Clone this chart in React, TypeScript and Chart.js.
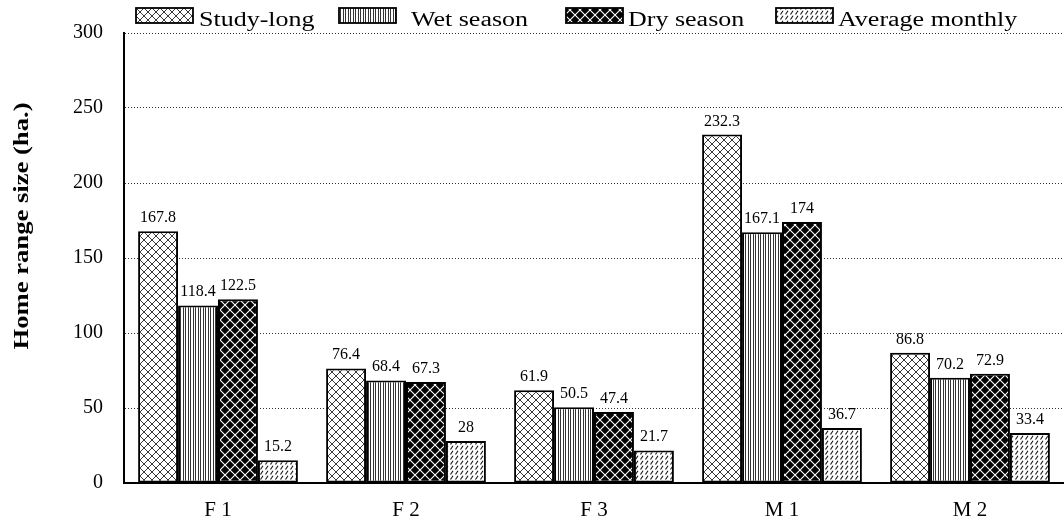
import React, { useEffect, useRef } from "react";
import { Chart, registerables } from "chart.js";

Chart.register(...registerables);

const categories = ["F 1", "F 2", "F 3", "M 1", "M 2"];
const seriesNames = ["Study-long", "Wet season", "Dry season", "Average monthly"];
const studyLong = [167.8, 76.4, 61.9, 232.3, 86.8];
const wetSeason = [118.4, 68.4, 50.5, 167.1, 70.2];
const drySeason = [122.5, 67.3, 47.4, 174, 72.9];
const averageMonthly = [15.2, 28, 21.7, 36.7, 33.4];
const yMin = 0;
const yMax = 300;
const yStep = 50;
const yTitle = "Home range size (ha.)";

const FONT = "'Liberation Serif', 'Times New Roman', serif";

function makeTile(w: number, h: number, draw: (c: CanvasRenderingContext2D) => void) {
  const cv = document.createElement("canvas");
  cv.width = w;
  cv.height = h;
  const c = cv.getContext("2d")!;
  draw(c);
  return cv;
}

function buildPatterns(ctx: CanvasRenderingContext2D) {
  const cross = makeTile(8, 8, (c) => {
    c.fillStyle = "#fff";
    c.fillRect(0, 0, 8, 8);
    c.strokeStyle = "#222";
    c.lineWidth = 0.9;
    c.beginPath();
    c.moveTo(0, 0); c.lineTo(8, 8);
    c.moveTo(0, 8); c.lineTo(8, 0);
    c.stroke();
  });
  const vertical = makeTile(5, 2, (c) => {
    c.fillStyle = "#fff";
    c.fillRect(0, 0, 5, 2);
    c.fillStyle = "#333";
    c.fillRect(0, 0, 1, 2);
    c.fillRect(3, 0, 1, 2);
  });
  const darkCross = makeTile(10, 10, (c) => {
    c.fillStyle = "#000";
    c.fillRect(0, 0, 10, 10);
    c.strokeStyle = "#fff";
    c.lineWidth = 1.1;
    c.beginPath();
    c.moveTo(0, 0); c.lineTo(10, 10);
    c.moveTo(0, 10); c.lineTo(10, 0);
    c.stroke();
  });
  const dashes = makeTile(5, 5, (c) => {
    c.fillStyle = "#fff";
    c.fillRect(0, 0, 5, 5);
    c.strokeStyle = "#111";
    c.lineWidth = 1.1;
    c.beginPath();
    c.moveTo(0.5, 4.5); c.lineTo(3, 0.8);
    c.stroke();
  });
  return [cross, vertical, darkCross, dashes].map((t) => ctx.createPattern(t, "repeat")!);
}

const legendBoxX = [136, 339, 566, 776];
const legendTextX = [199, 411, 628, 838];

export default function App() {
  const ref = useRef<HTMLCanvasElement | null>(null);

  useEffect(() => {
    const canvas = ref.current!;
    const ctx = canvas.getContext("2d")!;
    const patterns = buildPatterns(ctx);
    const values = [studyLong, wetSeason, drySeason, averageMonthly];

    const decorPlugin = {
      id: "decor",
      afterDatasetsDraw(chart: any) {
        const c = chart.ctx as CanvasRenderingContext2D;
        c.save();
        c.fillStyle = "#000";
        c.font = `16px ${FONT}`;
        c.textAlign = "center";
        c.textBaseline = "alphabetic";
        chart.data.datasets.forEach((ds: any, i: number) => {
          const meta = chart.getDatasetMeta(i);
          meta.data.forEach((el: any, j: number) => {
            c.fillText(String(ds.data[j]), el.x, el.y - 9);
          });
        });
        c.restore();
      },
      afterDraw(chart: any) {
        const c = chart.ctx as CanvasRenderingContext2D;
        c.save();
        seriesNames.forEach((name, i) => {
          const bx = legendBoxX[i];
          c.fillStyle = patterns[i];
          c.fillRect(bx, 8, 57, 15);
          c.strokeStyle = "#000";
          c.lineWidth = 1.8;
          c.strokeRect(bx, 8, 57, 15);
          c.save();
          c.translate(legendTextX[i], 26);
          c.scale(1.3, 1);
          c.fillStyle = "#000";
          c.font = `20px ${FONT}`;
          c.textAlign = "left";
          c.textBaseline = "alphabetic";
          c.fillText(name, 0, 0);
          c.restore();
        });
        c.save();
        c.font = `bold 22px ${FONT}`;
        const w = c.measureText(yTitle).width;
        c.translate(28, 226);
        c.rotate(-Math.PI / 2);
        c.scale(247 / w, 1);
        c.fillStyle = "#000";
        c.textAlign = "center";
        c.textBaseline = "alphabetic";
        c.fillText(yTitle, 0, 0);
        c.restore();
        c.restore();
      },
    };

    const chart = new Chart(canvas, {
      type: "bar",
      data: {
        labels: categories,
        datasets: seriesNames.map((name, i) => ({
          label: name,
          data: values[i],
          backgroundColor: patterns[i],
          borderColor: "#000",
          borderWidth: 2,
          borderSkipped: false,
          categoryPercentage: 0.85,
          barPercentage: 1.0,
        })),
      },
      options: {
        responsive: false,
        maintainAspectRatio: false,
        animation: false,
        devicePixelRatio: 1,
        layout: { padding: { top: 32, left: 0, right: 0, bottom: 0 } },
        plugins: {
          legend: { display: false },
          tooltip: { enabled: false },
          title: { display: false },
        },
        scales: {
          x: {
            grid: { display: false, drawTicks: false },
            border: { display: true, color: "#000", width: 2 },
            ticks: {
              color: "#000",
              font: { family: FONT, size: 21 },
              padding: 15,
            },
            afterFit: (scale: any) => {
              scale.height = 40;
            },
          },
          y: {
            min: yMin,
            max: yMax,
            ticks: {
              stepSize: yStep,
              color: "#000",
              font: { family: FONT, size: 20 },
              padding: 21,
            },
            grid: {
              drawTicks: false,
              color: (c: any) => (c.tick && c.tick.value === 0 ? "rgba(0,0,0,0)" : "#333"),
              lineWidth: 1,
            },
            border: { display: true, color: "#000", width: 2, dash: [1, 2] },
            afterFit: (scale: any) => {
              scale.width = 124;
            },
          },
        },
      } as any,
      plugins: [decorPlugin],
    });

    return () => chart.destroy();
  }, []);

  return (
    <div style={{ position: "fixed", left: 0, top: 0, width: 1064, height: 523, background: "#fff" }}>
      <canvas ref={ref} width={1064} height={523} style={{ width: 1064, height: 523 }} />
    </div>
  );
}
